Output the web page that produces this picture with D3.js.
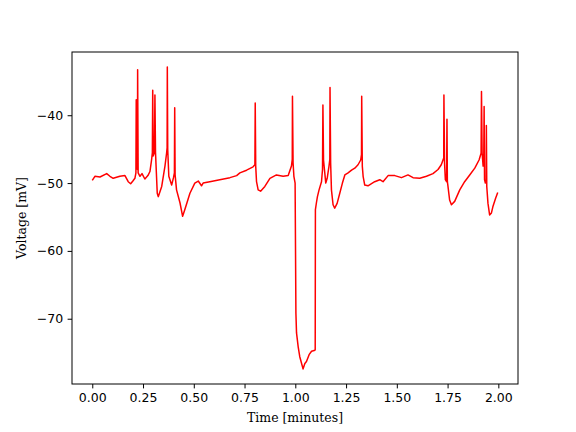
<!DOCTYPE html>
<html>
<head>
<meta charset="utf-8">
<script src="https://cdn.jsdelivr.net/npm/d3@7"></script>
<style>
  html, body { margin: 0; padding: 0; background: #fff; overflow: hidden; }
  svg { display: block; }
  .tick text { font-family: "DejaVu Sans", sans-serif; font-size: 12.5px; fill: #000; }
  .axis-label { font-family: "DejaVu Serif", serif; font-size: 12.5px; fill: #000; }
</style>
</head>
<body>
<div id="chart"></div>
<script>
// Membrane voltage trace.
// time in minutes, voltage in mV
const timeMin = [
  0.000, 0.013, 0.038, 0.071, 0.087, 0.103, 0.136, 0.161, 0.177, 0.189,
  0.200, 0.210, 0.215, 0.2165, 0.219, 0.2225, 0.2234, 0.226, 0.235, 0.245,
  0.259, 0.274, 0.284, 0.292, 0.296, 0.2977, 0.300, 0.306, 0.3086, 0.3115,
  0.315, 0.320, 0.325, 0.342, 0.358, 0.366, 0.3686, 0.3696, 0.3716, 0.377,
  0.391, 0.400, 0.4045, 0.406, 0.408, 0.415, 0.432, 0.445, 0.456, 0.481,
  0.505, 0.522, 0.538, 0.546, 0.579, 0.628, 0.678, 0.711, 0.727, 0.760,
  0.792, 0.801, 0.8026, 0.805, 0.809, 0.817, 0.829, 0.850, 0.875, 0.907,
  0.940, 0.965, 0.981, 0.985, 0.986, 0.989, 0.993, 0.999, 1.003, 1.006,
  1.014, 1.022, 1.031, 1.038, 1.047, 1.055, 1.068, 1.080, 1.093, 1.098,
  1.099, 1.104, 1.109, 1.117, 1.129, 1.134, 1.136, 1.139, 1.150, 1.157,
  1.166, 1.170, 1.171, 1.174, 1.178, 1.186, 1.194, 1.206, 1.219, 1.232,
  1.244, 1.260, 1.277, 1.293, 1.309, 1.322, 1.326, 1.327, 1.330, 1.334,
  1.342, 1.358, 1.391, 1.416, 1.432, 1.457, 1.490, 1.523, 1.555, 1.580,
  1.613, 1.646, 1.678, 1.703, 1.719, 1.731, 1.732, 1.735, 1.739, 1.745,
  1.747, 1.749, 1.752, 1.760, 1.769, 1.785, 1.810, 1.834, 1.859, 1.884,
  1.905, 1.915, 1.917, 1.920, 1.925, 1.928, 1.930, 1.932, 1.936, 1.940,
  1.941, 1.943, 1.949, 1.957, 1.966, 1.973, 1.987, 1.997
];
const voltageMv = [
  -49.6, -49.0, -49.1, -48.6, -49.0, -49.3, -49.0, -48.9, -49.8, -50.1,
  -49.7, -49.3, -48.5, -37.7, -47.0, -48.0, -33.3, -48.5, -49.0, -48.6,
  -49.4, -48.9, -48.3, -46.6, -45.5, -36.3, -46.0, -45.5, -37.0, -45.5,
  -48.0, -51.5, -52.0, -50.5, -47.5, -45.6, -44.8, -32.9, -45.0, -49.0,
  -50.3, -49.2, -48.5, -38.9, -48.8, -51.0, -52.9, -54.9, -53.9, -51.5,
  -50.0, -49.7, -50.4, -50.0, -49.8, -49.5, -49.2, -48.9, -48.5, -48.1,
  -47.6, -47.3, -38.2, -47.5, -49.8, -51.0, -51.2, -50.5, -49.3, -48.8,
  -49.0, -48.9, -47.5, -46.5, -37.2, -47.0, -49.0, -50.0, -69.2, -72.1,
  -74.1, -75.6, -76.6, -77.4, -76.6, -76.3, -75.3, -74.8, -74.7, -74.6,
  -53.9, -52.9, -52.0, -51.0, -49.8, -48.0, -38.5, -46.6, -50.0, -49.3,
  -47.5, -46.5, -35.9, -47.0, -51.0, -53.2, -53.7, -53.0, -51.5, -50.0,
  -48.8, -48.5, -48.1, -47.8, -47.3, -46.6, -45.8, -37.2, -47.5, -49.0,
  -50.3, -50.4, -49.8, -49.5, -49.8, -48.9, -48.9, -49.2, -48.8, -49.2,
  -49.3, -49.0, -48.6, -48.0, -47.3, -46.3, -37.0, -47.0, -49.5, -49.8,
  -40.6, -49.8, -50.5, -52.5, -53.2, -52.7, -51.0, -49.8, -48.8, -47.8,
  -46.6, -45.6, -36.5, -45.5, -47.5, -47.0, -38.7, -49.5, -50.0, -49.5,
  -41.5, -50.5, -53.0, -54.7, -54.4, -53.5, -52.2, -51.4
];
const xTicks = [0, 0.25, 0.5, 0.75, 1.0, 1.25, 1.5, 1.75, 2.0];
const yTicks = [-70, -60, -50, -40];

const width = 576;
const height = 432;
const margin = { top: 52, right: 58, bottom: 48, left: 72 };
const innerWidth = width - margin.left - margin.right;
const innerHeight = height - margin.top - margin.bottom;

const points = timeMin.map((t, i) => ({ t, v: voltageMv[i] }));

// matplotlib-style 5% margins around the data extent
function padded([lo, hi]) {
  const pad = (hi - lo) * 0.05;
  return [lo - pad, hi + pad];
}

const x = d3.scaleLinear().domain(padded(d3.extent(timeMin))).range([0, innerWidth]);
const y = d3.scaleLinear().domain(padded(d3.extent(voltageMv))).range([innerHeight, 0]);

const svg = d3.select('#chart').append('svg')
  .attr('width', width)
  .attr('height', height);

const g = svg.append('g').attr('transform', `translate(${margin.left},${margin.top})`);

const line = d3.line().x((d) => x(d.t)).y((d) => y(d.v));

g.append('path')
  .datum(points)
  .attr('fill', 'none')
  .attr('stroke', '#ff0000')
  .attr('stroke-width', 1.5)
  .attr('stroke-linejoin', 'round')
  .attr('d', line);

// 10pt text / 3.5pt ticks at 90 dpi
const xAxis = g.append('g')
  .attr('transform', `translate(0,${innerHeight})`)
  .call(d3.axisBottom(x).tickValues(xTicks).tickFormat(d3.format('.2f')).tickSize(4.4).tickPadding(4.4));

const yAxis = g.append('g')
  .call(d3.axisLeft(y).tickValues(yTicks).tickFormat(d3.format('d')).tickSize(4.4).tickPadding(4.4));

[xAxis, yAxis].forEach((a) => {
  a.select('.domain').remove();
  a.selectAll('.tick line').attr('stroke', '#000').attr('stroke-width', 1);
});

// axes frame
g.append('rect')
  .attr('width', innerWidth)
  .attr('height', innerHeight)
  .attr('fill', 'none')
  .attr('stroke', '#000')
  .attr('stroke-width', 1);

g.append('text')
  .attr('class', 'axis-label')
  .attr('x', innerWidth / 2)
  .attr('y', innerHeight + 38)
  .attr('text-anchor', 'middle')
  .text('Time [minutes]');

g.append('text')
  .attr('class', 'axis-label')
  .attr('transform', `translate(${-50},${innerHeight / 2}) rotate(-90)`)
  .attr('text-anchor', 'middle')
  .attr('dy', '0.35em')
  .text('Voltage [mV]');
</script>
</body>
</html>
